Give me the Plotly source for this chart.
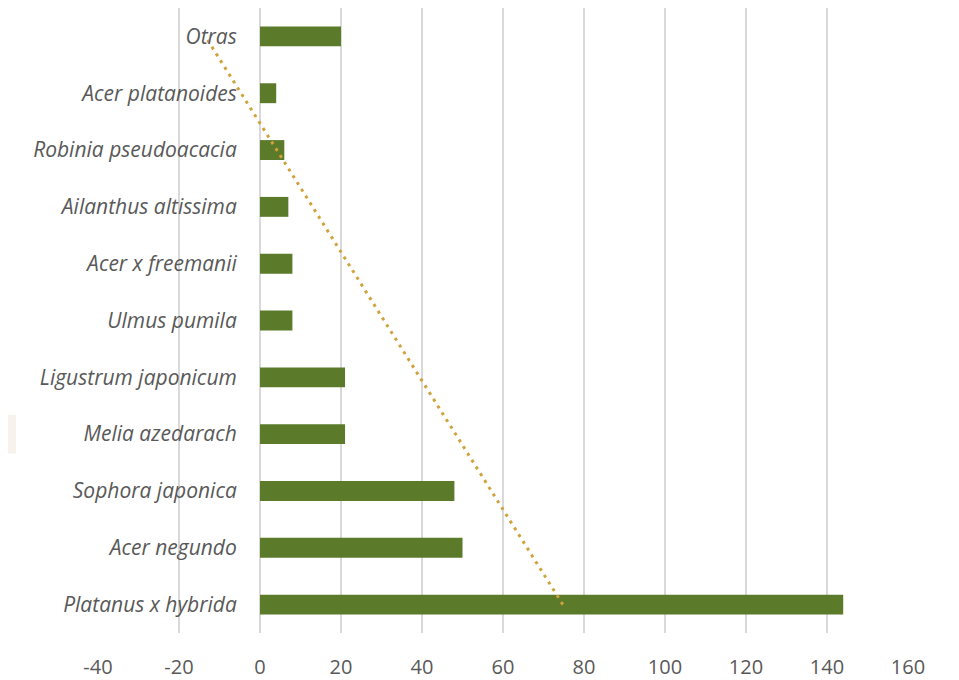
import numpy as np
import plotly.graph_objects as go

species = ["Platanus x hybrida", "Acer negundo", "Sophora japonica", "Melia azedarach",
           "Ligustrum japonicum", "Ulmus pumila", "Acer x freemanii", "Ailanthus altissima",
           "Robinia pseudoacacia", "Acer platanoides", "Otras"]
counts = [144, 50, 48, 21, 21, 8, 8, 7, 6, 4, 20]
x_ticks = [-40, -20, 0, 20, 40, 60, 80, 100, 120, 140, 160]

# Linear trend line (Excel-style, over category index 1..n)
idx = np.arange(1, len(counts) + 1)
slope, intercept = np.polyfit(idx, counts, 1)
trend_x = [slope * idx[0] + intercept, slope * idx[-1] + intercept]
trend_y = [species[0], species[-1]]

W, H = 951, 672
ml, mr, mt, mb = 90, 51, 0, 45
pw = W - ml - mr
ph = H - mt - mb

fig = go.Figure()
fig.add_trace(go.Bar(
    x=counts, y=species, orientation="h",
    marker=dict(color="#5B7A2A", line=dict(width=0)),
    showlegend=False, hoverinfo="x+y",
))
fig.add_trace(go.Scatter(
    x=trend_x, y=trend_y, mode="lines",
    line=dict(color="#D0A23C", width=3, dash="3px,5px"),
    showlegend=False, hoverinfo="skip",
))

zero_pos = (0 - (-40)) / 200.0

fig.update_layout(
    width=W, height=H,
    margin=dict(l=ml, r=mr, t=mt, b=mb),
    paper_bgcolor="white", plot_bgcolor="white",
    bargap=0.65,
    font=dict(family="Open Sans, sans-serif", color="#595959"),
    xaxis=dict(
        range=[-40, 160], tickvals=x_ticks, ticktext=[str(v) for v in x_ticks],
        showgrid=True, gridcolor="#D9D9D9", gridwidth=2,
        zeroline=True, zerolinecolor="#D9D9D9", zerolinewidth=2,
        showline=False, ticks="outside", ticklen=16, tickcolor="rgba(0,0,0,0)",
        tickfont=dict(size=20, color="#595959"),
        fixedrange=True,
    ),
    yaxis=dict(
        type="category", categoryorder="array", categoryarray=species,
        anchor="free", position=zero_pos,
        showgrid=False, showline=False, zeroline=False,
        ticks="outside", ticklen=19, tickcolor="rgba(0,0,0,0)",
        tickfont=dict(size=21, color="#595959", style="italic"),
        range=[-0.5, len(species) - 0.5],
        fixedrange=True,
    ),
    shapes=[dict(
        type="rect", xref="paper", yref="paper", layer="below",
        x0=(-8 - ml) / pw, x1=(8 - ml) / pw,
        y0=1 - (447 - mt) / ph, y1=1 - (408 - mt) / ph,
        fillcolor="#F7F3EC", line=dict(width=0),
    )],
)

fig.write_html("out.html")
